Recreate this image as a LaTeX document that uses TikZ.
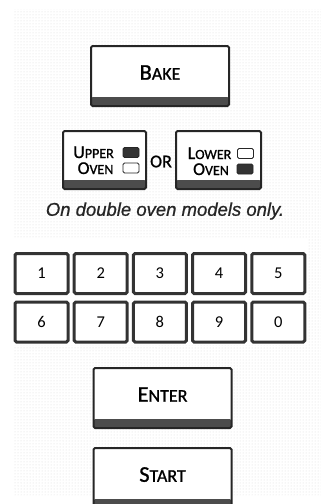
\documentclass[tikz,border=0pt]{standalone}
\usepackage{fontspec}
\setmainfont{Carlito}[FakeBold=1]
\newfontfamily\keyfont{Carlito}
\newfontfamily\notefont{Liberation Sans}[FakeBold=0.8]
\usepackage{tikz}
\usetikzlibrary{positioning,patterns}
\newcommand{\capsc}[4]{{\fontsize{#1}{#1}\selectfont #3}{\fontsize{#2}{#2}\selectfont #4}}
\newcommand{\btnsc}[2]{\capsc{22.5pt}{18pt}{#1}{#2}}
\newcommand{\ovensc}[2]{\capsc{18pt}{14pt}{#1}{#2}}

\begin{document}
\begin{tikzpicture}[x=1pt,y=-1pt,
    node distance=5.5pt and 3.2pt,
    btn/.style={draw=black!85,line width=2pt,fill=white,rounded corners=1.5pt,minimum width=138pt,minimum height=60pt,text depth=7pt,text=black,
      path picture={\fill[black!70] ([yshift=9pt]path picture bounding box.south west) rectangle (path picture bounding box.south east);}},
    oven/.style={btn,minimum width=83pt,minimum height=58pt},
    ovtext/.style={inner sep=0pt,text=black},
    lamp/.style={draw=black!85,line width=0.9pt,rounded corners=1.5pt,minimum width=16pt,minimum height=10pt,inner sep=0pt,fill=white},
    lampon/.style={lamp,fill=black!80},
    key/.style={draw=black!80,line width=3pt,fill=white,rounded corners=1.5pt,minimum width=53pt,minimum height=40pt,inner sep=0pt,text=black,font=\keyfont\fontsize{16.5pt}{16.5pt}\selectfont},
    note/.style={font=\notefont\fontsize{18.5pt}{18.5pt}\selectfont\itshape,text=black!85}
]
\useasboundingbox (0,0) rectangle (321,504);
\fill[pattern=dots,pattern color=black!15] (14,9) -- (321,9) -- (321,495) -- (14,495) -- (14,345) -- (308,345) -- (308,238) -- (14,238) -- cycle;

\node[btn] (bake) at (160,76) {\btnsc{B}{AKE}};

\node[oven] (upper) at (104.5,160) {};
\node[ovtext,anchor=base] (uptxt) at (93.5,158) {\ovensc{U}{PPER}};
\node[ovtext,anchor=base] (upoven) at (95.5,174) {\ovensc{O}{VEN}};
\node[lampon] (uplampa) at (131,152.5) {};
\node[lamp] (uplampb) at (131,168) {};
\node[ovtext,font=\fontsize{18pt}{18pt}\selectfont] (or) at (161,161.5) {OR};
\node[oven,minimum width=85pt] (lower) at (218.5,160) {};
\node[ovtext,anchor=base] (lowtxt) at (209.5,159) {\ovensc{L}{OWER}};
\node[ovtext,anchor=base] (lowoven) at (211,175) {\ovensc{O}{VEN}};
\node[lamp] (lowlampa) at (245.5,153.5) {};
\node[lampon] (lowlampb) at (245,169) {};

\node[note] (only) at (165,211) {On double oven models only.};

\node[key] (k1) at (41.5,273.5) {1};
\node[key,right=of k1] (k2) {2};
\node[key,right=of k2] (k3) {3};
\node[key,right=of k3] (k4) {4};
\node[key,right=of k4] (k5) {5};
\node[key,below=of k1] (k6) {6};
\node[key,right=of k6] (k7) {7};
\node[key,right=of k7] (k8) {8};
\node[key,right=of k8] (k9) {9};
\node[key,right=of k9] (k0) {0};

\node[btn] (enter) at (162.5,398) {\btnsc{E}{NTER}};
\node[btn] (start) at (162.5,478) {\btnsc{S}{TART}};
\end{tikzpicture}
\end{document}
